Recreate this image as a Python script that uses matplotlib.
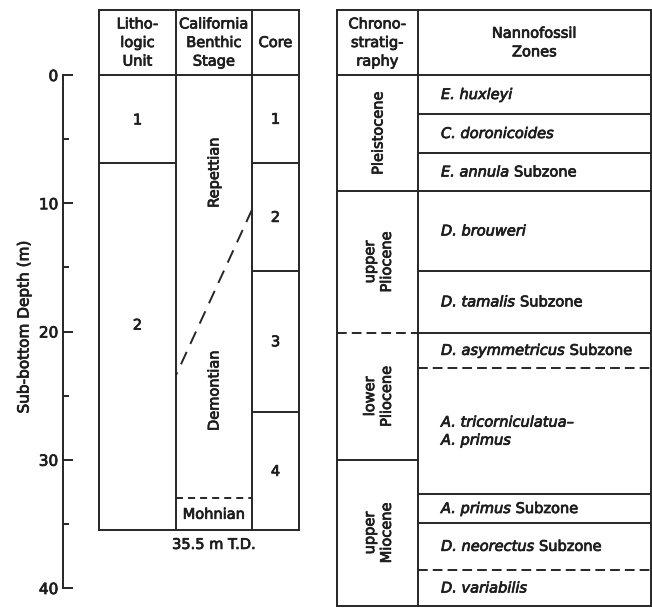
import matplotlib
matplotlib.use("Agg")
import matplotlib.pyplot as plt
import matplotlib.patheffects as pe
from matplotlib.ticker import MultipleLocator

# ---------------- data ----------------
depth_ticks = [0, 10, 20, 30, 40]
total_depth = 35.5

litho_units = ["1", "2"]
litho_tops = [0.0, 6.9]

cores = ["1", "2", "3", "4"]
core_tops = [0.0, 6.9, 15.3, 26.3]

stage_names = ["Repettian", "Demontian", "Mohnian"]
demontian_top_core_side = 10.5    # diachronous boundary, core side
demontian_top_litho_side = 23.4   # diachronous boundary, lithology side
mohnian_top = 33.0

chrono_names = ["Pleistocene", "upper\nPliocene", "lower\nPliocene", "upper\nMiocene"]
chrono_bounds = [0.0, 9.04, 20.1, 30.0, 41.4]
chrono_dashed = [False, False, True, False, False]

zone_italic = ["E. huxleyi", "C. doronicoides", "E. annula", "D. brouweri",
               "D. tamalis", "D. asymmetricus", "A. tricorniculatua\u2013\nA. primus",
               "A. primus", "D. neorectus", "D. variabilis"]
zone_suffix = ["", "", " Subzone", "", " Subzone", " Subzone", "",
               " Subzone", " Subzone", ""]
zone_bounds = [0.0, 3.04, 6.08, 9.04, 15.28, 20.1, 22.84, 32.7, 34.9, 38.6, 41.4]
zone_dashed = [False, False, False, False, False, False, True, False, False, True, False]

# ---------------- layout ----------------
W, H, DPI = 652, 608, 100
PX_PER_M = 12.825
Y0 = 75                       # pixel row of 0 m
HEADER_TOP = -65 / PX_PER_M   # header box top, in metres above 0
LEFT_X = [99, 176, 252, 299]
RIGHT_X = [337, 418, 651]
LINE = "#262626"
TXT = "#1e1e1e"
LW = 1.4
FS = 10.5

plt.rcParams["font.family"] = ["DejaVu Sans"]
HEAVY = [pe.withStroke(linewidth=0.55, foreground=TXT)]

fig = plt.figure(figsize=(W / DPI, H / DPI), dpi=DPI)
ax = fig.add_axes([0, 0, 1, 1])
ax.set_xlim(0, W)
ax.set_ylim((H - Y0) / PX_PER_M, -Y0 / PX_PER_M)
ax.axis("off")


def label(x, y, s, **kw):
    kw.setdefault("fontsize", FS)
    kw.setdefault("color", TXT)
    return ax.text(x, y, s, path_effects=HEAVY, **kw)


def hline(y, x0, x1, dashed=None):
    ls = "-" if dashed is None else (0, dashed)
    ax.plot([x0, x1], [y, y], color=LINE, lw=LW, ls=ls, solid_capstyle="butt")


def vline(x, y0, y1):
    ax.plot([x, x], [y0, y1], color=LINE, lw=LW, solid_capstyle="projecting")


# ---- depth scale ----
axd = fig.add_axes([63 / W, (H - (Y0 + 40 * PX_PER_M)) / H, 0.0001, 40 * PX_PER_M / H])
axd.set_ylim(40, 0)
axd.set_xticks([])
for s in ("top", "right", "bottom"):
    axd.spines[s].set_visible(False)
axd.spines["left"].set_color(LINE)
axd.spines["left"].set_linewidth(LW)
axd.set_yticks(depth_ticks)
axd.yaxis.set_minor_locator(MultipleLocator(5))
axd.tick_params(axis="y", which="major", direction="in", length=7, width=LW,
                color=LINE, pad=3.5, labelsize=FS + 0.5, labelcolor=TXT)
axd.tick_params(axis="y", which="minor", direction="in", length=4, width=LW, color=LINE)
for tl in axd.get_yticklabels():
    tl.set_path_effects(HEAVY)
axd.set_facecolor("none")
fig.text(24 / W, 1 - 327 / H, "Sub-bottom Depth (m)", rotation=90, ha="center",
         va="center", fontsize=FS + 0.5, color=TXT, path_effects=HEAVY)

# ---- left table ----
for x in LEFT_X:
    vline(x, HEADER_TOP, total_depth)
hline(HEADER_TOP, LEFT_X[0], LEFT_X[-1])
hline(0, LEFT_X[0], LEFT_X[-1])
hline(total_depth, LEFT_X[0], LEFT_X[-1])

hdr_y = HEADER_TOP / 2
for (x0, x1), lab in zip(zip(LEFT_X[:-1], LEFT_X[1:]),
                         ["Litho-\nlogic\nUnit", "California\nBenthic\nStage", "Core"]):
    label((x0 + x1) / 2, hdr_y, lab, ha="center", va="center",
          linespacing=1.3, multialignment="center")

# lithologic units
for t in litho_tops[1:]:
    hline(t, LEFT_X[0], LEFT_X[1])
litho_label_depths = [3.5, 19.5]
for lab, d in zip(litho_units, litho_label_depths):
    label((LEFT_X[0] + LEFT_X[1]) / 2, d, lab, ha="center", va="center")

# cores
for t in core_tops[1:]:
    hline(t, LEFT_X[2], LEFT_X[3])
core_bottoms = core_tops[1:] + [total_depth]
for lab, t, b in zip(cores, core_tops, core_bottoms):
    label((LEFT_X[2] + LEFT_X[3]) / 2, (t + b) / 2, lab, ha="center", va="center")

# benthic stages
ax.plot([LEFT_X[2], LEFT_X[1]], [demontian_top_core_side, demontian_top_litho_side],
        color=LINE, lw=LW, ls=(0, (7, 4.5)), solid_capstyle="butt")
hline(mohnian_top, LEFT_X[1], LEFT_X[2], dashed=(3.6, 2.6))
stage_label_depths = [7.6, 24.6, (mohnian_top + total_depth) / 2]
stage_x = (LEFT_X[1] + LEFT_X[2]) / 2
for name, d in zip(stage_names[:2], stage_label_depths[:2]):
    label(stage_x, d, name, rotation=90, ha="center", va="center")
label(stage_x, stage_label_depths[2], stage_names[2], ha="center", va="center")
label(stage_x, total_depth + 1.1, f"{total_depth} m T.D.", ha="center", va="center")

# ---- right table ----
right_bottom = zone_bounds[-1]
for x in RIGHT_X:
    vline(x, HEADER_TOP, right_bottom)
hline(HEADER_TOP, RIGHT_X[0], RIGHT_X[-1])
hline(0, RIGHT_X[0], RIGHT_X[-1])
hline(right_bottom, RIGHT_X[0], RIGHT_X[-1])

label((RIGHT_X[0] + RIGHT_X[1]) / 2, hdr_y, "Chrono-\nstratig-\nraphy", ha="center",
      va="center", linespacing=1.3, multialignment="center")
label((RIGHT_X[1] + RIGHT_X[2]) / 2, hdr_y, "Nannofossil\nZones", ha="center",
      va="center", linespacing=1.3, multialignment="center")

# chronostratigraphy
for b, dsh in zip(chrono_bounds[1:-1], chrono_dashed[1:-1]):
    hline(b, RIGHT_X[0], RIGHT_X[1], dashed=(5, 2.6) if dsh else None)
for name, t, b in zip(chrono_names, chrono_bounds[:-1], chrono_bounds[1:]):
    label((RIGHT_X[0] + RIGHT_X[1]) / 2 + 0.5, (t + b) / 2, name, rotation=90,
          ha="center", va="center", linespacing=1.15, multialignment="center")

# nannofossil zones
for b, dsh in zip(zone_bounds[1:-1], zone_dashed[1:-1]):
    hline(b, RIGHT_X[1], RIGHT_X[2], dashed=(5, 2.6) if dsh else None)
zone_x = RIGHT_X[1] + 23
for ital, suf, t, b in zip(zone_italic, zone_suffix, zone_bounds[:-1], zone_bounds[1:]):
    t1 = label(zone_x, (t + b) / 2, ital, style="italic", ha="left", va="center",
               linespacing=1.25)
    if suf:
        ax.annotate(suf, xy=(1, 0), xycoords=t1, ha="left", va="bottom",
                    fontsize=FS, color=TXT, path_effects=HEAVY)

fig.savefig("out.png", dpi=DPI, facecolor="white")
